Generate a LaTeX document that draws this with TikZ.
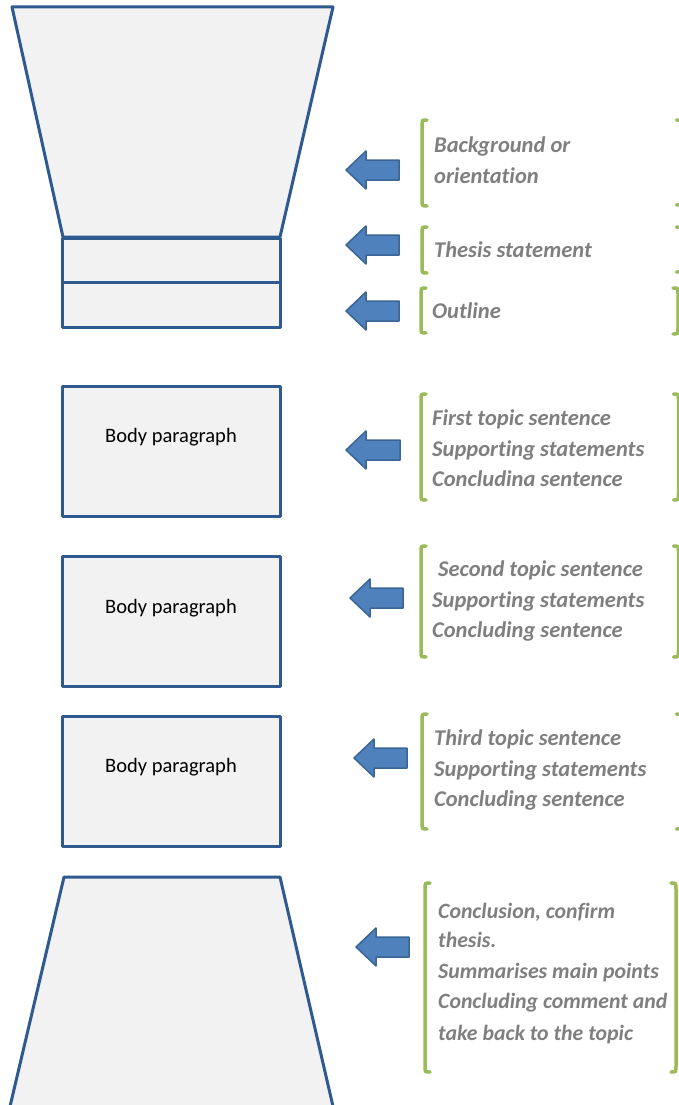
\documentclass[tikz,border=0pt]{standalone}
\usepackage{fontspec}
\setmainfont{Carlito}[Ligatures=NoCommon]
\definecolor{edgeblue}{HTML}{2F5A8F}
\definecolor{shapefill}{HTML}{F2F2F2}
\definecolor{arrowfill}{HTML}{4F81BD}
\definecolor{arrowedge}{HTML}{3A6594}
\definecolor{bracketgreen}{HTML}{9BBB59}
\definecolor{textgray}{HTML}{7F7F7F}
\tikzset{
  shapebox/.style={draw=edgeblue, fill=shapefill, line width=3pt, line join=round},
  boxnode/.style={shapebox, rectangle, inner sep=0pt, anchor=north west, minimum width=218pt},
  bodylabel/.style={font=\fontsize{20.5}{24}\selectfont, text=black, inner sep=0pt},
  notetext/.style={font=\fontsize{22.5}{27}\selectfont\bfseries\itshape, text=textgray, inner sep=0pt, anchor=base west},
  concltext/.style={notetext, font=\fontsize{21.8}{27}\selectfont\bfseries\itshape},
  arrowstyle/.style={draw=arrowedge, fill=arrowfill, line width=1.5pt, line join=round},
  brk/.style={draw=bracketgreen, line width=3.5pt, line cap=round}
}
\newcommand\leftblockarrow[3]{%
  \draw[arrowstyle] (#1,#2) -- (#1+20,#2-19) -- (#1+20,#2-10) -- (#3,#2-10) -- (#3,#2+10) -- (#1+20,#2+10) -- (#1+20,#2+19) -- cycle;}
\newcommand\openbrk[3]{%
  \draw[brk] (#1+5,#2) .. controls (#1,#2) .. (#1,#2+6) -- (#1,#3-6) .. controls (#1,#3) .. (#1+5,#3);}
\newcommand\closebrk[3]{%
  \draw[brk] (#1-5,#2) .. controls (#1,#2) .. (#1,#2+6) -- (#1,#3-6) .. controls (#1,#3) .. (#1-5,#3);}
\begin{document}
\begin{tikzpicture}[x=1pt, y=-1pt]
\useasboundingbox (0,0) rectangle (678,1105);
\fill[white] (0,0) rectangle (678,1105);

% introduction funnel
\draw[shapebox] (12,7) -- (333,7) -- (280,237) -- (63,237) -- cycle;
\node[boxnode, minimum height=44pt] (thesisbox) at (61,237) {};
\node[boxnode, minimum height=45pt] (outlinebox) at (61,281) {};

% body paragraphs
\node[boxnode, minimum height=130pt] (body1) at (61,385) {};
\node[bodylabel] (body1label) at (171,437) {Body paragraph};
\node[boxnode, minimum height=130pt] (body2) at (61,555) {};
\node[bodylabel] (body2label) at (171,608) {Body paragraph};
\node[boxnode, minimum height=130pt] (body3) at (61,715) {};
\node[bodylabel] (body3label) at (171,767) {Body paragraph};

% conclusion funnel
\draw[shapebox] (64,877) -- (280,877) -- (335,1115) -- (8,1115) -- cycle;

% arrows
\leftblockarrow{346}{170}{399}
\leftblockarrow{346}{245}{399}
\leftblockarrow{346}{311}{399}
\leftblockarrow{346}{450}{400}
\leftblockarrow{350}{598}{403}
\leftblockarrow{354}{758}{407}
\leftblockarrow{356}{947}{409}

% brackets
\openbrk{422}{120}{206}
\closebrk{681.5}{120}{205}
\openbrk{422}{227}{273}
\closebrk{681.5}{227}{272}
\openbrk{421}{288}{333}
\closebrk{678}{288}{334}
\openbrk{421}{394}{500}
\closebrk{678.5}{394}{500}
\openbrk{421}{546}{657}
\closebrk{678.5}{546}{657}
\openbrk{422}{714}{829}
\closebrk{681.5}{714}{829}
\openbrk{425}{883}{1072}
\closebrk{676}{883}{1072}

% texts
\node[notetext] (t1a) at (434,153) {Background or};
\node[notetext] (t1b) at (434,183) {orientation};
\node[notetext] (t2) at (434,257) {Thesis statement};
\node[notetext] (t3) at (432,318) {Outline};
\node[notetext] (t4a) at (432,425) {First topic sentence};
\node[notetext] (t4b) at (432,456) {Supporting statements};
\node[notetext] (t4c) at (432,486) {Concludina sentence};
\node[notetext] (t5a) at (438,576) {Second topic sentence};
\node[notetext] (t5b) at (432,607) {Supporting statements};
\node[notetext] (t5c) at (432,637) {Concluding sentence};
\node[notetext] (t6a) at (434,745) {Third topic sentence};
\node[notetext] (t6b) at (434,776) {Supporting statements};
\node[notetext] (t6c) at (434,806) {Concluding sentence};
\node[concltext] (t7a) at (438,918) {Conclusion, confirm};
\node[concltext] (t7b) at (438,947) {thesis.};
\node[concltext] (t7c) at (438,978) {Summarises main points};
\node[concltext] (t7d) at (438,1008) {Concluding comment and};
\node[concltext] (t7e) at (438,1040) {take back to the topic};
\end{tikzpicture}
\end{document}
